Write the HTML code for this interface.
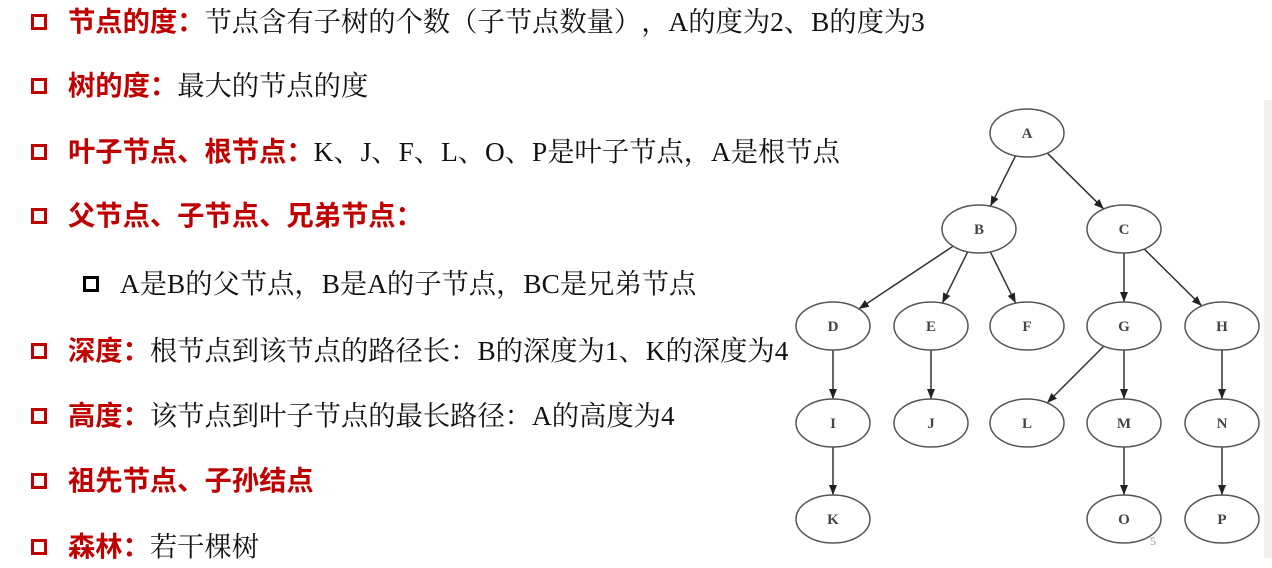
<!DOCTYPE html>
<html><head><meta charset="utf-8">
<style>
html,body{margin:0;padding:0;background:#fff;}
body{width:1272px;height:568px;position:relative;overflow:hidden;}
.l{position:absolute;left:68px;font-size:27.3px;line-height:32px;white-space:nowrap;font-family:"Liberation Serif","Noto Serif CJK SC",serif;color:#111;text-spacing-trim:space-all;font-kerning:none;}
.r{color:#c00000;font-weight:bold;font-family:"Liberation Serif","Noto Sans CJK SC",sans-serif;}
.b{position:absolute;left:31px;width:10px;height:10px;border:3px solid #c00000;}
.bk{border-color:#000;left:83px;}
.strip{position:absolute;left:1264px;top:100px;width:8px;height:458px;background:#f0f0f0;}
</style></head><body>
<div class="b" style="top:14px"></div><div class="l" style="top:6px"><span class="r">节点的度：</span>节点含有子树的个数（子节点数量），A的度为2、B的度为3</div>
<div class="b" style="top:78px"></div><div class="l" style="top:70px"><span class="r">树的度：</span>最大的节点的度</div>
<div class="b" style="top:144px"></div><div class="l" style="top:136px"><span class="r">叶子节点、根节点：</span>K、J、F、L、O、P是叶子节点，A是根节点</div>
<div class="b" style="top:208px"></div><div class="l" style="top:200px"><span class="r">父节点、子节点、兄弟节点：</span></div>
<div class="b bk" style="top:276px"></div><div class="l" style="top:268px;left:120px">A是B的父节点，B是A的子节点，BC是兄弟节点</div>
<div class="b" style="top:343px"></div><div class="l" style="top:335px"><span class="r">深度：</span>根节点到该节点的路径长：B的深度为1、K的深度为4</div>
<div class="b" style="top:408px"></div><div class="l" style="top:400px"><span class="r">高度：</span>该节点到叶子节点的最长路径：A的高度为4</div>
<div class="b" style="top:473px"></div><div class="l" style="top:465px"><span class="r">祖先节点、子孙结点</span></div>
<div class="b" style="top:539px"></div><div class="l" style="top:531px"><span class="r">森林：</span>若干棵树</div>
<div class="strip"></div>
<svg id="g" width="1272" height="568" style="position:absolute;left:0;top:0">
<defs><marker id="ar" markerWidth="10" markerHeight="8" refX="10" refY="4" orient="auto" markerUnits="userSpaceOnUse"><path d="M0,0 L10,4 L0,8 z" fill="#222"/></marker></defs>
</svg>
<script>
var N={A:[1027,133],B:[979,229],C:[1124,229],D:[833,326],E:[931,326],F:[1027,326],G:[1124,326],H:[1222,326],I:[833,423],J:[931,423],L:[1027,423],M:[1124,423],N:[1222,423],K:[833,519],O:[1124,519],P:[1222,519]};
var E=[["A","B"],["A","C"],["B","D"],["B","E"],["B","F"],["C","G"],["C","H"],["D","I"],["E","J"],["G","L"],["G","M"],["H","N"],["I","K"],["M","O"],["N","P"]];
var rx=37,ry=24,s=document.getElementById('g'),h="";
function bp(c,dx,dy){var t=1/Math.sqrt(dx*dx/(rx*rx)+dy*dy/(ry*ry));return [c[0]+dx*t,c[1]+dy*t];}
E.forEach(function(e){var a=N[e[0]],b=N[e[1]],dx=b[0]-a[0],dy=b[1]-a[1];var p=bp(a,dx,dy),q=bp(b,-dx,-dy);
h+='<line x1="'+p[0]+'" y1="'+p[1]+'" x2="'+q[0]+'" y2="'+q[1]+'" stroke="#333" stroke-width="1.5" marker-end="url(#ar)"/>';});
for(var k in N){h+='<ellipse cx="'+N[k][0]+'" cy="'+N[k][1]+'" rx="'+rx+'" ry="'+ry+'" fill="#fff" stroke="#555" stroke-width="1.5"/><text x="'+N[k][0]+'" y="'+(N[k][1]+5)+'" text-anchor="middle" font-family="Liberation Serif,serif" font-size="15" font-weight="bold" fill="#444">'+k+'</text>';}
h+='<text x="1150" y="545" font-family="Liberation Serif,serif" font-size="12" fill="#999">5</text>';
s.insertAdjacentHTML('beforeend',h);
</script>
</body></html>
